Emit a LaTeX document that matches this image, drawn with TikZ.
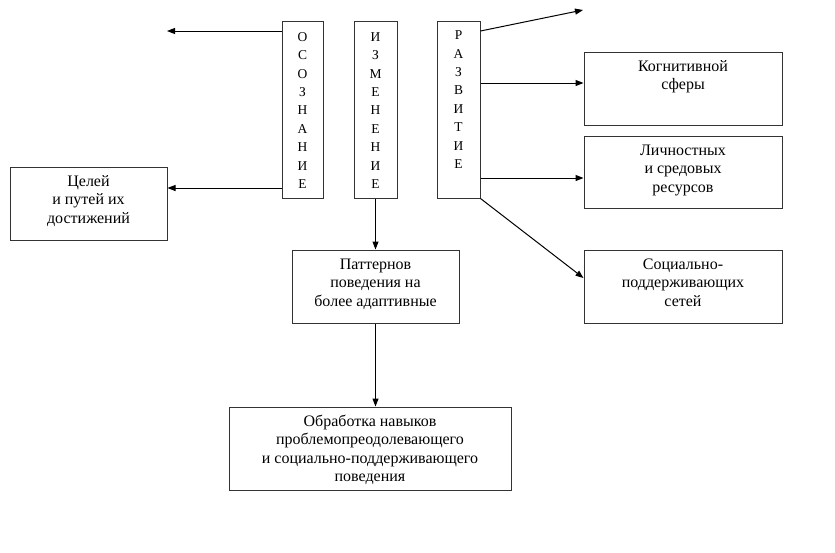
\documentclass[tikz,border=0pt]{standalone}
\usepackage{fontspec}
\setmainfont{Liberation Serif}
\usetikzlibrary{arrows.meta}
\newcommand\fl{\rule{0pt}{15pt}}
\tikzset{
  box/.style={draw=black!80, line width=1pt, rectangle, inner sep=0pt},
  txt/.style={anchor=north, inner sep=0pt, align=center, font=\fontsize{16}{18.4}\selectfont},
  vtxt/.style={anchor=north, inner sep=0pt, align=center, font=\fontsize{13.5}{18.4}\selectfont},
  arr/.style={line width=1pt, -{Triangle[length=8pt,width=6pt]}},
  ln/.style={line width=1pt}
}
\begin{document}
\begin{tikzpicture}[x=1pt,y=-1pt]
\useasboundingbox (0,0) rectangle (835,552);
% vertical boxes
\node[box, minimum width=41pt, minimum height=177pt] (osoz) at (302.5,109.5) {};
\node[box, minimum width=43pt, minimum height=177pt] (izm) at (375.5,109.5) {};
\node[box, minimum width=43pt, minimum height=177pt] (razv) at (458.5,109.5) {};
\node[vtxt] (osozt) at ([yshift=-5.5pt]osoz.north) {\fl О\\С\\О\\З\\Н\\А\\Н\\И\\Е};
\node[vtxt] (izmt) at ([yshift=-5.5pt]izm.north) {\fl И\\З\\М\\Е\\Н\\Е\\Н\\И\\Е};
\node[vtxt] (razvt) at ([yshift=-4pt]razv.north) {\fl Р\\А\\З\\В\\И\\Т\\И\\Е};
% other boxes
\node[box, minimum width=157pt, minimum height=73pt] (celei) at (88.5,203.5) {};
\node[box, minimum width=198pt, minimum height=73pt] (kog) at (683,88.5) {};
\node[box, minimum width=198pt, minimum height=72pt] (lich) at (683,172) {};
\node[box, minimum width=198pt, minimum height=73pt] (soc) at (683,286.5) {};
\node[box, minimum width=167pt, minimum height=73pt] (patt) at (375.5,286.5) {};
\node[box, minimum width=282pt, minimum height=83pt] (obr) at (370,448.5) {};
% texts
\node[txt] (celeit) at ([yshift=-4.5pt]celei.north) {\fl Целей\\и путей их\\достижений};
\node[txt] (kogt) at ([yshift=-4.5pt]kog.north) {\fl Когнитивной\\сферы};
\node[txt] (licht) at ([yshift=-4.5pt]lich.north) {\fl Личностных\\и средовых\\ресурсов};
\node[txt] (soct) at ([yshift=-4.5pt]soc.north) {\fl Социально-\\поддерживающих\\сетей};
\node[txt] (pattt) at ([yshift=-4.5pt]patt.north) {\fl Паттернов\\поведения на\\более адаптивные};
\node[txt] (obrt) at ([yshift=-4.5pt]obr.north) {\fl Обработка навыков\\проблемопреодолевающего\\и социально-поддерживающего\\поведения};
% free ends
\coordinate (tl) at (167,31);
\coordinate (tr) at (583,10);
% connectors
\draw[arr] (osoz.west |- tl) -- (tl);
\draw[arr] (osoz.west |- 0,188) -- (celei.east |- 0,188);
\draw[arr] (izm.south) -- (patt.north);
\draw[arr] (patt.south) -- (patt.south |- obr.north);
\draw[arr] (razv.east |- 0,31) -- (tr);
\draw[arr] (razv.east |- 0,83) -- (kog.west |- 0,83);
\draw[arr] (razv.east |- 0,178) -- (lich.west |- 0,178);
\draw[arr] (razv.south east) -- (soc.west |- 0,278);
\end{tikzpicture}
\end{document}
